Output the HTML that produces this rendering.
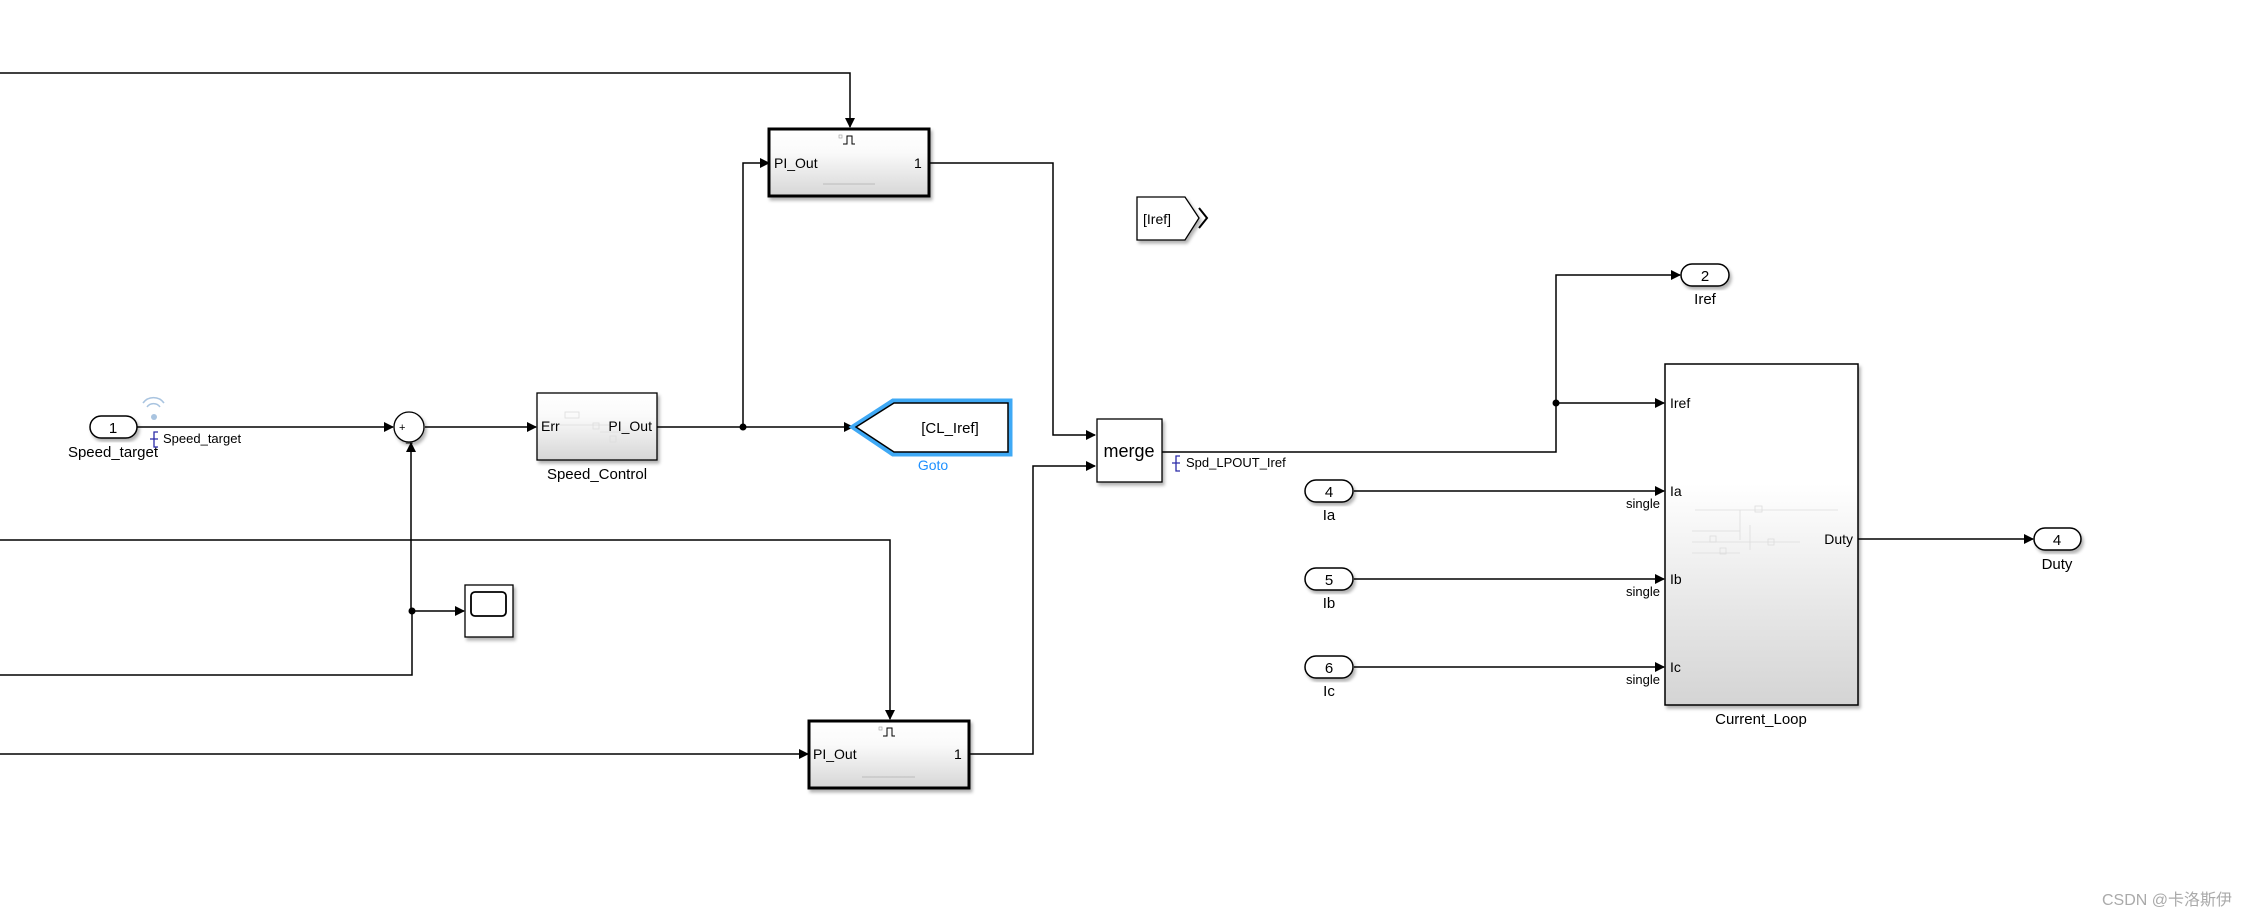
<!DOCTYPE html>
<html><head><meta charset="utf-8"><style>
html,body{margin:0;padding:0;background:#fff;}
svg{display:block;font-family:"Liberation Sans",Arial,sans-serif;}
</style></head><body>
<svg width="2247" height="917" viewBox="0 0 2247 917" xmlns="http://www.w3.org/2000/svg">
<defs>
<linearGradient id="g" x1="0" y1="0" x2="0" y2="1"><stop offset="0" stop-color="#ffffff"/><stop offset="0.35" stop-color="#fafafa"/><stop offset="1" stop-color="#d6d6d6"/></linearGradient>
<linearGradient id="g2" x1="0" y1="0" x2="0" y2="1"><stop offset="0" stop-color="#ffffff"/><stop offset="0.35" stop-color="#ffffff"/><stop offset="1" stop-color="#d4d4d4"/></linearGradient>
<marker id="a" markerWidth="10" markerHeight="10" refX="9" refY="5" orient="auto" markerUnits="userSpaceOnUse"><path d="M0,0 L10,5 L0,10 z" fill="#000"/></marker>
<filter id="sh" x="-10%" y="-10%" width="130%" height="130%"><feDropShadow dx="2" dy="3" stdDeviation="1.5" flood-color="#000" flood-opacity="0.3"/></filter>
</defs>
<g fill="none" stroke="#000" stroke-width="1.5">
<!-- top line to top PI -->
<polyline points="0,73 850,73 850,127" marker-end="url(#a)"/>
<!-- top PI out to merge in1 -->
<polyline points="930,163 1053,163 1053,435 1095,435" marker-end="url(#a)"/>
<!-- inport1 to sum -->
<polyline points="137,427 393,427" marker-end="url(#a)"/>
<!-- sum to speed control -->
<polyline points="425,427 536,427" marker-end="url(#a)"/>
<!-- speed control to goto -->
<polyline points="657,427 853,427" marker-end="url(#a)"/>
<polyline points="743,427 743,163 769,163" marker-end="url(#a)"/>
<!-- feedback -->
<polyline points="0,675 412,675 412,611 411,611 411,443" marker-end="url(#a)"/>
<polyline points="412,611 464,611" marker-end="url(#a)"/>
<!-- line to bottom PI trigger -->
<polyline points="0,540 890,540 890,719" marker-end="url(#a)"/>
<polyline points="0,754 808,754" marker-end="url(#a)"/>
<polyline points="970,754 1033,754 1033,466 1095,466" marker-end="url(#a)"/>
<!-- merge out -->
<polyline points="1162,452 1556,452 1556,275 1680,275" marker-end="url(#a)"/>
<polyline points="1556,403 1664,403" marker-end="url(#a)"/>
<polyline points="1354,491 1664,491" marker-end="url(#a)"/>
<polyline points="1354,579 1664,579" marker-end="url(#a)"/>
<polyline points="1354,667 1664,667" marker-end="url(#a)"/>
<polyline points="1858,539 2033,539" marker-end="url(#a)"/>
</g>
<g fill="#000"><circle cx="743" cy="427" r="3.5"/><circle cx="412" cy="611" r="3.5"/><circle cx="1556" cy="403" r="3.5"/></g>

<!-- top PI block -->
<rect x="769" y="129" width="160" height="67" fill="url(#g)" stroke="#000" stroke-width="3" filter="url(#sh)"/>
<path d="M843,144 h4 v-8 h5 v8 h3" fill="none" stroke="#000" stroke-width="1"/>
<rect x="839" y="135" width="3" height="3" fill="none" stroke="#999" stroke-width="0.6"/>
<line x1="823" y1="184" x2="875" y2="184" stroke="#bbb"/>
<text x="774" y="168" font-size="14">PI_Out</text>
<text x="914" y="168" font-size="14">1</text>

<!-- bottom PI block -->
<rect x="809" y="721" width="160" height="67" fill="url(#g)" stroke="#000" stroke-width="3" filter="url(#sh)"/>
<path d="M883,736 h4 v-8 h5 v8 h3" fill="none" stroke="#000" stroke-width="1"/>
<rect x="879" y="727" width="3" height="3" fill="none" stroke="#999" stroke-width="0.6"/>
<line x1="862" y1="777" x2="915" y2="777" stroke="#bbb"/>
<text x="813" y="759" font-size="14">PI_Out</text>
<text x="954" y="759" font-size="14">1</text>

<!-- inport 1 -->
<rect x="90" y="416" width="47" height="22" rx="11" fill="#fff" stroke="#000" stroke-width="1.5" filter="url(#sh)"/>
<text x="113" y="433" font-size="15" text-anchor="middle">1</text>
<text x="113" y="457" font-size="15" text-anchor="middle">Speed_target</text>
<g fill="none" stroke="#a9c4e0" stroke-width="1.5"><path d="M147,407 a8,8 0 0 1 13,0"/><path d="M143,403 a13,13 0 0 1 21,0"/></g>
<circle cx="154" cy="417" r="3" fill="#a9c4e0"/>
<path d="M158,432 h-4 v15 h4 M150,439 h8" fill="none" stroke="#2a2aa8" stroke-width="1.3"/>
<text x="163" y="443" font-size="13">Speed_target</text>

<!-- sum -->
<circle cx="409" cy="427" r="15" fill="#fff" stroke="#000" stroke-width="1.3" filter="url(#sh)"/>
<text x="399" y="431" font-size="11">+</text>
<text x="406" y="441" font-size="12">_</text>

<!-- Speed_Control -->
<rect x="537" y="393" width="120" height="67" fill="url(#g)" stroke="#000" stroke-width="1.3" filter="url(#sh)"/>
<g stroke="#ddd" stroke-width="0.8" fill="none"><rect x="565" y="412" width="14" height="6"/><line x1="560" y1="425" x2="610" y2="425"/><rect x="593" y="423" width="6" height="6"/><line x1="600" y1="432" x2="630" y2="432"/><rect x="610" y="436" width="6" height="6"/></g>
<text x="541" y="431" font-size="14">Err</text>
<text x="652" y="431" font-size="14" text-anchor="end">PI_Out</text>
<text x="597" y="479" font-size="15" text-anchor="middle">Speed_Control</text>

<!-- Goto -->
<path d="M853,427 L893,401 L1010,401 L1010,454 L893,454 Z" fill="#fff" stroke="#3fa9f5" stroke-width="5"/>
<path d="M856,427 L894,403 L1008,403 L1008,452 L894,452 Z" fill="#fff" stroke="#000" stroke-width="1.5"/>
<text x="950" y="433" font-size="15" text-anchor="middle">[CL_Iref]</text>
<text x="933" y="470" font-size="14" text-anchor="middle" fill="#1e90ff">Goto</text>

<!-- scope -->
<rect x="465" y="585" width="48" height="52" fill="#fff" stroke="#000" stroke-width="1.3" filter="url(#sh)"/>
<rect x="471" y="592" width="35" height="24" rx="4" fill="#fff" stroke="#000" stroke-width="1.8"/>

<!-- From [Iref] -->
<path d="M1137,197 L1185,197 L1199,218 L1185,240 L1137,240 Z" fill="#fff" stroke="#000" stroke-width="1.3" filter="url(#sh)"/>
<path d="M1199,208 l8,10 l-8,10" fill="none" stroke="#000" stroke-width="2"/>
<text x="1143" y="224" font-size="14">[Iref]</text>

<!-- merge -->
<rect x="1097" y="419" width="65" height="63" fill="#fff" stroke="#000" stroke-width="1.3" filter="url(#sh)"/>
<text x="1129" y="457" font-size="18" text-anchor="middle">merge</text>
<path d="M1180,456 h-4 v15 h4 M1172,463 h8" fill="none" stroke="#2a2aa8" stroke-width="1.3"/>
<text x="1186" y="467" font-size="13">Spd_LPOUT_Iref</text>

<!-- outport 2 -->
<rect x="1681" y="264" width="48" height="22" rx="11" fill="#fff" stroke="#000" stroke-width="1.5" filter="url(#sh)"/>
<text x="1705" y="281" font-size="15" text-anchor="middle">2</text>
<text x="1705" y="304" font-size="15" text-anchor="middle">Iref</text>

<!-- inports 4,5,6 -->
<rect x="1305" y="480" width="48" height="22" rx="11" fill="#fff" stroke="#000" stroke-width="1.5" filter="url(#sh)"/>
<text x="1329" y="497" font-size="15" text-anchor="middle">4</text>
<text x="1329" y="520" font-size="15" text-anchor="middle">Ia</text>
<rect x="1305" y="568" width="48" height="22" rx="11" fill="#fff" stroke="#000" stroke-width="1.5" filter="url(#sh)"/>
<text x="1329" y="585" font-size="15" text-anchor="middle">5</text>
<text x="1329" y="608" font-size="15" text-anchor="middle">Ib</text>
<rect x="1305" y="656" width="48" height="22" rx="11" fill="#fff" stroke="#000" stroke-width="1.5" filter="url(#sh)"/>
<text x="1329" y="673" font-size="15" text-anchor="middle">6</text>
<text x="1329" y="696" font-size="15" text-anchor="middle">Ic</text>
<g font-size="13" text-anchor="end"><text x="1660" y="508">single</text><text x="1660" y="596">single</text><text x="1660" y="684">single</text></g>

<!-- Current_Loop -->
<rect x="1665" y="364" width="193" height="341" fill="url(#g2)" stroke="#000" stroke-width="1.5" filter="url(#sh)"/>
<g stroke="#ddd" stroke-width="0.8" fill="none"><line x1="1695" y1="510" x2="1838" y2="510"/><rect x="1755" y="506" width="7" height="6"/><line x1="1740" y1="510" x2="1740" y2="540"/><line x1="1692" y1="531" x2="1740" y2="531"/><line x1="1692" y1="542" x2="1800" y2="542"/><rect x="1768" y="539" width="6" height="6"/><line x1="1692" y1="553" x2="1740" y2="553"/><line x1="1750" y1="525" x2="1750" y2="550"/><rect x="1710" y="536" width="6" height="6"/><rect x="1720" y="548" width="6" height="6"/></g>
<g font-size="14"><text x="1670" y="408">Iref</text><text x="1670" y="496">Ia</text><text x="1670" y="584">Ib</text><text x="1670" y="672">Ic</text><text x="1853" y="544" text-anchor="end">Duty</text></g>
<text x="1761" y="724" font-size="15" text-anchor="middle">Current_Loop</text>

<!-- outport 4 Duty -->
<rect x="2034" y="528" width="47" height="22" rx="11" fill="#fff" stroke="#000" stroke-width="1.5" filter="url(#sh)"/>
<text x="2057" y="545" font-size="15" text-anchor="middle">4</text>
<text x="2057" y="569" font-size="15" text-anchor="middle">Duty</text>

<text x="2232" y="905" font-size="16" text-anchor="end" fill="#aaa" font-family="Liberation Sans, 'Noto Sans CJK SC', sans-serif">CSDN @卡洛斯伊</text>
</svg>
</body></html>
